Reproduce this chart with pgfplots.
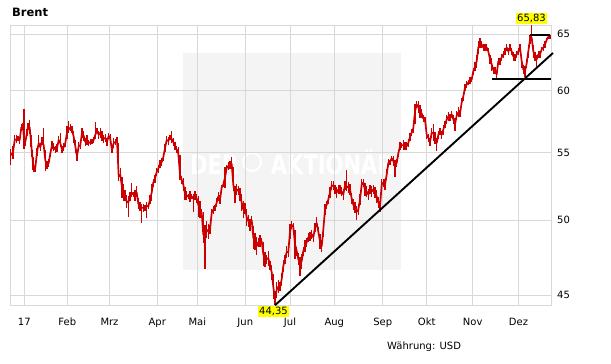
\documentclass[border=0pt]{standalone}
\usepackage{pgfplots}
\usepackage{pgfplotstable}
\pgfplotsset{compat=1.18}
\usepackage{fontspec}
\setmainfont{DejaVu Sans}
\definecolor{ored}{RGB}{204,0,0}
\definecolor{gridgray}{RGB}{216,216,216}
\definecolor{wmgray}{RGB}{244,244,244}
\definecolor{lblyellow}{RGB}{255,255,0}

\pgfplotstableread{
x c ep em
10.7 54.78 0.5 0.75
13.0 55.02 0.5 0.5
14.7 55.98 0.4 0.5
16.3 56.04 0.3 0.3
18.0 56.06 0.2 0.2
19.7 55.98 0.2 0.3
21.3 56.97 0.3 0.3
23.0 57.07 0.3 0.3
24.0 56.00 2.44 0.7
25.3 55.82 0.3 0.3
27.0 56.56 0.3 0.3
28.0 57.07 0.3 0.3
29.7 56.97 0.6 0.5
31.0 55.90 0.5 0.5
32.0 54.93 0.3 0.3
33.0 54.19 0.5 0.5
34.0 53.68 0.2 0.2
35.3 53.82 0.3 0.3
37.0 55.02 0.3 0.3
38.7 55.74 0.65 0.3
40.3 55.41 0.3 0.3
42.0 55.90 0.3 0.3
43.7 55.57 1.4 0.3
45.3 54.41 0.8 0.8
47.0 54.04 0.3 0.3
48.7 54.19 0.3 0.3
50.3 54.93 0.3 0.3
52.0 55.57 0.3 0.3
53.7 55.41 0.3 0.3
55.3 55.24 0.3 0.3
57.0 55.33 0.3 0.3
58.7 55.98 0.3 0.3
60.3 55.74 0.8 0.3
62.0 55.24 0.3 0.3
63.7 55.41 0.3 0.3
65.3 55.74 0.3 0.3
67.0 56.56 0.5 0.5
68.7 56.80 0.7 0.3
70.3 56.97 0.3 0.3
72.0 56.80 0.3 0.3
73.7 56.23 0.5 0.5
75.3 55.49 0.5 0.5
77.0 54.71 0.4 0.4
78.7 55.49 0.3 0.3
80.3 55.57 0.3 0.3
82.0 56.56 0.4 0.4
83.7 56.31 0.4 0.4
85.3 55.82 0.3 0.3
87.0 55.98 0.4 0.4
88.7 55.74 0.2 0.2
90.3 55.82 0.2 0.2
92.0 55.86 0.2 0.2
93.7 55.98 0.2 0.2
95.3 56.39 1.0 0.3
97.0 56.72 0.2 0.2
98.7 56.39 0.3 0.3
100.3 56.56 0.4 0.4
102.0 56.31 0.4 0.4
103.7 56.06 0.3 0.3
105.3 56.15 0.3 0.3
107.0 55.82 0.3 0.3
108.7 56.31 0.2 0.2
110.3 56.06 0.4 0.4
112.0 55.16 0.2 0.2
113.7 55.74 0.4 0.4
115.3 55.82 0.2 0.2
117.0 55.98 0.2 0.2
118.7 53.16 2.6 0.3
120.3 53.31 0.5 0.5
122.0 52.35 0.8 0.8
123.3 51.99 0.6 0.6
125.0 51.77 0.4 0.4
126.7 51.33 0.5 0.5
128.3 51.25 0.5 1.0
130.0 51.69 0.3 0.3
131.7 51.99 0.7 0.3
133.3 51.84 0.2 0.2
135.0 51.77 0.4 0.4
136.7 51.99 0.5 0.3
138.3 51.18 0.4 0.4
140.0 50.96 0.3 0.3
141.7 50.88 0.3 1.1
143.3 50.88 0.3 0.3
145.0 50.88 0.2 0.2
146.7 51.03 0.3 0.9
148.3 50.96 0.2 0.2
150.0 51.47 0.3 0.3
151.7 51.99 0.6 0.6
153.3 52.72 0.3 0.3
155.0 53.02 0.3 0.3
156.7 53.53 0.3 0.3
158.3 53.75 0.3 0.3
160.0 54.12 0.3 0.3
161.7 54.26 0.3 0.3
163.3 54.63 0.3 0.3
165.0 55.33 0.3 0.3
166.7 55.98 0.3 0.3
168.3 55.90 0.3 0.3
170.0 56.15 0.2 0.2
171.7 56.06 0.6 0.3
173.3 55.82 0.3 0.3
175.0 55.49 0.3 0.3
176.7 55.24 0.3 0.3
178.3 54.93 0.5 0.5
180.0 53.31 1.5 0.4
181.7 52.94 0.3 0.3
183.3 52.57 0.5 0.5
185.0 51.91 0.5 0.5
186.7 51.77 0.3 0.3
188.3 51.69 0.2 0.2
190.0 51.77 0.3 0.5
191.7 51.69 0.2 0.2
193.3 51.55 0.3 1.0
195.0 51.77 0.3 0.3
196.7 51.55 0.3 0.3
198.3 51.10 0.6 0.9
200.0 50.74 0.6 0.6
201.7 50.52 0.3 0.3
203.3 49.00 1.6 0.6
205.0 49.13 0.5 2.46
206.7 49.33 0.6 0.6
208.3 49.20 0.5 0.5
210.0 49.33 0.3 0.3
211.7 50.52 0.3 0.3
213.3 50.74 0.3 0.3
215.0 50.88 0.2 0.2
216.7 51.25 0.3 0.3
218.3 51.69 0.3 0.3
220.0 51.47 0.3 0.3
221.7 52.35 0.2 0.2
223.3 52.57 0.2 0.2
225.0 53.08 0.8 0.8
226.7 53.82 0.2 0.2
228.3 53.97 0.3 0.3
230.0 54.04 0.3 0.3
231.7 54.12 0.5 0.4
233.3 52.57 1.3 0.5
235.0 51.84 0.6 0.6
236.7 52.21 0.4 0.4
238.3 52.13 0.3 0.3
240.0 51.84 0.5 0.5
241.7 51.25 0.6 0.6
243.3 50.74 0.6 0.6
245.0 50.81 0.4 0.4
246.7 50.22 0.6 0.6
248.3 49.93 0.4 0.4
250.0 49.67 0.4 0.4
251.7 50.00 0.3 0.3
253.3 48.80 0.8 0.8
255.0 48.53 0.6 0.6
256.7 48.20 0.6 0.6
258.3 48.47 0.3 0.3
260.0 48.53 0.4 0.4
261.7 48.53 0.2 0.2
263.3 47.67 0.8 0.8
265.0 47.33 0.5 0.5
266.7 47.33 0.3 0.3
268.3 47.40 0.5 0.5
270.0 46.93 0.3 0.3
271.7 46.47 0.5 0.5
273.3 45.53 0.8 0.8
275.0 44.68 0.6 0.33
276.7 45.33 0.5 0.5
278.3 45.53 0.4 0.4
280.0 45.53 0.3 0.3
281.7 46.00 0.4 0.4
283.3 46.87 0.4 0.4
285.0 47.33 0.3 0.3
286.7 47.80 0.4 0.4
288.3 47.80 0.3 0.3
290.0 49.20 0.5 0.5
291.7 49.67 0.3 0.3
293.3 49.53 0.3 0.3
295.0 48.33 1.0 1.0
296.7 47.87 0.3 0.3
298.3 47.33 0.4 0.4
300.0 47.00 0.5 0.8
301.7 47.20 0.5 0.5
303.3 47.87 0.3 0.3
305.0 48.20 0.4 0.4
306.7 48.47 0.3 0.3
308.3 48.80 0.3 0.3
310.0 48.87 0.3 0.3
311.7 49.00 0.3 0.3
313.3 48.80 0.3 0.3
315.0 49.47 0.3 0.3
316.7 49.80 0.45 0.3
318.3 49.20 0.3 0.3
320.0 48.53 0.5 0.5
321.7 48.20 0.4 0.4
323.3 49.33 0.5 0.5
325.0 50.74 0.4 0.4
326.7 51.10 0.3 0.3
328.3 51.47 0.3 0.3
330.0 51.99 0.4 0.4
331.7 52.50 0.3 0.3
333.3 52.50 0.3 0.3
335.0 52.21 0.3 0.3
336.7 51.99 0.4 0.4
338.3 52.21 0.3 0.3
340.0 52.21 0.3 0.3
341.7 52.06 0.3 0.3
343.3 51.84 0.4 0.4
345.0 52.50 0.3 0.3
346.7 52.43 1.25 0.3
348.3 52.35 0.4 0.4
350.0 52.21 0.4 0.4
351.7 51.55 0.4 0.4
353.3 51.10 0.4 0.4
355.0 50.88 0.4 0.4
356.7 50.59 0.4 0.6
358.3 50.74 0.4 0.4
360.0 51.47 0.4 0.4
361.7 52.57 0.4 0.4
363.3 52.72 0.3 0.3
365.0 52.21 0.5 0.5
366.7 52.06 0.4 0.4
368.3 51.84 0.4 0.4
370.0 52.21 0.3 0.3
371.7 52.06 0.4 0.4
373.3 52.21 0.3 0.3
375.0 51.99 0.4 0.4
376.7 51.69 0.5 0.5
378.3 51.25 0.4 0.4
380.0 50.96 0.4 0.4
381.7 52.57 0.4 0.4
383.3 52.72 0.3 0.3
385.0 52.57 0.4 0.4
386.7 53.31 0.4 0.4
388.3 54.19 0.3 0.3
390.0 54.26 0.2 0.2
391.7 54.56 0.2 0.2
393.3 54.34 0.4 0.4
395.0 54.04 0.4 0.9
396.7 54.19 0.3 0.3
398.3 54.93 0.3 0.3
400.0 55.49 0.3 0.3
401.7 55.57 0.2 0.2
403.3 55.57 0.4 0.4
405.0 55.49 0.3 0.3
406.7 55.49 0.3 0.3
408.3 55.74 0.3 0.3
410.0 56.23 0.3 0.3
411.7 56.56 0.3 0.3
413.3 56.90 0.4 0.4
415.0 58.28 0.6 1.0
416.7 58.85 0.3 0.3
418.3 58.61 0.5 0.5
420.0 58.28 0.5 0.5
421.7 58.11 0.4 0.4
423.3 57.70 0.3 0.3
425.0 57.62 0.2 0.2
426.7 56.39 0.3 0.3
428.3 56.15 0.3 0.3
430.0 55.82 0.3 0.3
431.7 56.56 0.4 0.4
433.3 56.56 0.7 0.7
435.0 56.15 0.5 0.5
436.7 55.74 0.4 0.6
438.3 56.39 0.3 0.3
440.0 56.64 0.3 0.3
441.7 56.39 0.3 0.3
443.3 56.80 0.4 0.4
445.0 57.21 0.3 0.3
446.7 57.62 0.4 0.4
448.3 57.87 0.4 0.4
450.0 57.79 0.3 0.3
451.7 58.03 0.3 0.3
453.3 57.62 0.4 0.4
455.0 57.21 0.55 0.55
456.7 57.95 0.4 0.4
458.3 58.20 0.4 0.4
460.0 58.11 0.3 0.3
461.7 59.02 0.4 0.4
463.3 59.51 0.4 0.4
465.0 60.26 0.3 0.3
466.7 60.53 0.3 0.3
468.3 60.70 0.2 0.2
470.0 60.88 0.3 0.3
471.7 60.97 0.2 0.2
473.3 61.67 0.3 0.3
475.0 62.11 0.4 0.4
476.7 62.54 0.6 0.6
478.3 63.77 0.6 0.6
480.0 64.12 0.53 0.4
481.7 64.04 0.3 0.3
483.3 63.77 0.3 0.3
485.0 63.77 0.3 0.3
486.7 63.77 0.3 0.3
488.3 63.42 0.3 0.3
490.0 62.72 0.4 0.4
491.7 62.28 0.6 0.6
493.3 61.76 0.3 0.3
495.0 61.76 0.3 0.3
496.7 61.40 0.3 0.3
498.3 62.54 0.3 0.3
500.0 62.54 0.3 0.3
501.7 62.90 0.3 0.3
503.3 63.16 0.3 0.3
505.0 63.42 0.3 0.3
506.7 63.77 0.3 0.3
508.3 63.42 0.3 0.3
510.0 63.77 0.3 0.3
511.7 63.42 0.3 0.3
513.3 62.98 0.4 0.4
515.0 62.90 0.3 0.3
516.7 63.16 0.3 0.3
518.3 63.42 0.3 0.3
520.0 63.77 0.3 0.3
521.7 62.54 0.6 0.6
523.3 61.84 0.4 0.4
525.0 61.67 0.5 0.53
526.7 62.37 0.4 0.4
528.3 63.42 0.6 0.6
530.0 64.47 0.4 0.4
531.7 64.65 1.18 0.3
533.3 63.42 0.6 0.6
535.0 62.98 0.4 0.4
536.7 62.72 0.4 0.7
538.3 63.16 0.3 0.3
540.0 63.16 0.3 0.3
541.7 63.60 0.2 0.2
543.3 63.77 0.3 0.3
545.0 64.04 0.3 0.3
546.7 64.47 0.2 0.2
548.3 64.74 0.2 0.2
550.0 64.74 0.2 0.2
}\brent

\begin{document}
\begin{tikzpicture}
\useasboundingbox (0pt,0pt) rectangle (611pt,364pt);
% watermark box
\fill[wmgray] (183pt,94pt) rectangle (401pt,311pt);
\node[white, font=\bfseries\fontsize{27}{27}\selectfont, inner sep=0pt] at (292pt,202pt) {\scalebox{0.78}[1]{DER \phantom{O} AKTIONÄR}};
\draw[white, line width=2pt] (252pt,202pt) circle (9pt);
\begin{axis}[
  at={(10pt,59pt)}, anchor=south west,
  scale only axis, width=541pt, height=280pt,
  xmin=10, xmax=551,
  ymode=log, ymin=44.37, ymax=65.83,
  clip=false,
  axis line style={gridgray, line width=0.8pt},
  grid=major,
  major grid style={gridgray, line width=0.8pt},
  major tick length=0pt,
  xtick={24.3,67.3,109.5,157.3,197.3,245.3,290,334.3,382.7,426.7,472.7,518.5},
  xticklabels={17,Feb,Mrz,Apr,Mai,Jun,Jul,Aug,Sep,Okt,Nov,Dez},
  ytick={45,50,55,60,65},
  yticklabels={45,50,55,60,65},
  yticklabel pos=right,
  tick label style={font=\fontsize{10}{12}\selectfont, black},
  xticklabel style={anchor=base, inner sep=0pt, yshift=-21pt},
  yticklabel style={anchor=west, inner sep=0pt, xshift=6pt},
]
\addplot[ored, line width=1.7pt, mark=none, line join=round,
  error bars/.cd, y dir=both, y explicit, error mark=none,
  error bar style={ored, line width=1.4pt}]
  table[x=x, y=c, y error plus=ep, y error minus=em] {\brent};
% trend lines
\addplot[black, line width=1.9pt, mark=none] coordinates {(275,44.35) (553,63.28)};
\addplot[black, line width=1.9pt, mark=none] coordinates {(492,61.0) (551,61.0)};
\addplot[black, line width=1.9pt, mark=none] coordinates {(530,64.9) (550,64.9)};
\end{axis}
% labels
\node[fill=lblyellow, inner sep=1pt, font=\fontsize{10}{12}\selectfont, minimum height=11pt] at (531.5pt,345.5pt) {65,83};
\node[fill=lblyellow, inner sep=1pt, font=\fontsize{10}{12}\selectfont, minimum height=11pt] at (273.5pt,52.5pt) {44,35};
\node[anchor=base west, inner sep=0pt, font=\bfseries\fontsize{11.5}{13}\selectfont] at (12pt,347.3pt) {Brent};
\node[anchor=base west, inner sep=0pt, font=\fontsize{10}{12}\selectfont] at (387pt,14pt) {Währung: USD};
\end{tikzpicture}
\end{document}
